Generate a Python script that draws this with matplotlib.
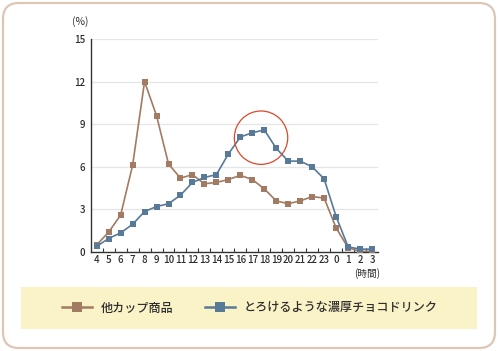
import matplotlib
matplotlib.use("Agg")
import matplotlib.pyplot as plt
from matplotlib.patches import FancyBboxPatch, Rectangle, Ellipse
from matplotlib.transforms import IdentityTransform

plt.rcParams['font.family'] = ['Noto Sans CJK JP', 'DejaVu Sans']

hours = ['4', '5', '6', '7', '8', '9', '10', '11', '12', '13', '14', '15', '16',
         '17', '18', '19', '20', '21', '22', '23', '0', '1', '2', '3']
other_cup = [0.5, 1.4, 2.6, 6.1, 12.0, 9.6, 6.2, 5.2, 5.45, 4.8, 4.9, 5.1, 5.4,
             5.1, 4.45, 3.6, 3.4, 3.6, 3.9, 3.8, 1.7, 0.3, 0.05, 0.05]
choco = [0.4, 0.95, 1.35, 1.95, 2.85, 3.2, 3.4, 4.0, 4.9, 5.25, 5.45, 6.9, 8.1,
         8.4, 8.6, 7.3, 6.4, 6.4, 6.0, 5.15, 2.5, 0.37, 0.2, 0.2]
yticks = [0, 3, 6, 9, 12, 15]
labels = ['他カップ商品', 'とろけるような濃厚チョコドリンク']

brown = '#a27b62'
blue = '#587a98'
txt = '#2e2e2e'

fig = plt.figure(figsize=(4.98, 3.51), dpi=100)
fig.patch.set_facecolor('white')

# outer rounded frame (pixel coords)
frame = FancyBboxPatch((3, 3), 492, 345, boxstyle='round,pad=0,rounding_size=16',
                       transform=IdentityTransform(), facecolor='white',
                       edgecolor='#dcc6b6', linewidth=1.6, zorder=-2)
fig.patches.append(frame)

# legend band
band = Rectangle((21 / 498, 1 - 329 / 351), (477 - 21) / 498, (329 - 287) / 351,
                 transform=fig.transFigure, facecolor='#faf3c8', edgecolor='none', zorder=-1)
fig.patches.append(band)

ax = fig.add_axes([90.7 / 498, 1 - 252 / 351, (378 - 90.7) / 498, (252 - 39) / 351])
ax.set_facecolor('none')
x = list(range(len(hours)))
l1, = ax.plot(x, other_cup, color=brown, lw=1.2, marker='s', ms=4.8,
              markeredgewidth=0, zorder=3, label=labels[0])
l2, = ax.plot(x, choco, color=blue, lw=1.2, marker='s', ms=4.8,
              markeredgewidth=0, zorder=4, label=labels[1])

ax.set_xlim(-0.5, len(hours) - 0.5)
ax.set_ylim(0, 15)
ax.set_yticks(yticks)
ax.set_yticklabels([str(v) for v in yticks], fontweight='medium')
ax.set_xticks(x)
ax.set_xticklabels(hours, fontweight='medium')
ax.set_xticks([i - 0.5 for i in range(1, len(hours))], minor=True)
ax.tick_params(axis='x', which='major', length=0, pad=2.5, labelsize=7, colors=txt)
ax.tick_params(axis='x', which='minor', length=3, direction='in', color='#333333', width=0.8)
ax.tick_params(axis='y', length=0, pad=4, labelsize=7, colors=txt)
for s in ['top', 'right']:
    ax.spines[s].set_visible(False)
ax.spines['left'].set_color('#333333')
ax.spines['bottom'].set_color('#333333')
ax.spines['left'].set_linewidth(1.0)
ax.spines['bottom'].set_linewidth(1.0)
ax.grid(axis='y', color='#e6e6e6', lw=0.9, zorder=0)
ax.set_axisbelow(True)

# red highlight circle
ax.add_patch(Ellipse((13.73, 8.05), 4.46, 3.76, facecolor='none',
                     edgecolor='#d9482a', lw=0.9, zorder=5))

fig.text(80 / 498, 1 - 22 / 351, '(%)', fontsize=7.5, ha='center', va='center', color=txt)
fig.text(367 / 498, 1 - 273.5 / 351, '(時間)', fontsize=7, ha='center', va='center', color=txt)

leg = fig.legend(handles=[l1, l2], labels=labels, loc='center',
                 bbox_to_anchor=(250 / 498, 1 - 308 / 351), ncol=2, frameon=False,
                 prop={'size': 8.7, 'weight': 'medium'}, handlelength=2.5,
                 columnspacing=2.6, handletextpad=0.7, labelcolor=txt, markerscale=1.5)
for h in leg.legend_handles:
    h.set_linewidth(1.8)

fig.savefig('out.png', dpi=100)
